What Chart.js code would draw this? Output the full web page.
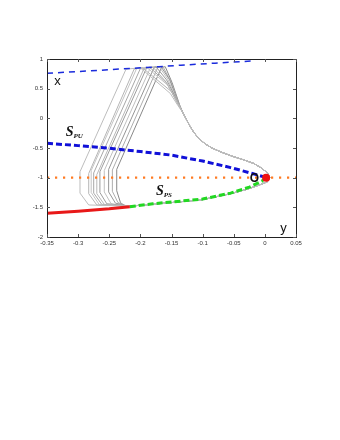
<!DOCTYPE html>
<html>
<head>
<meta charset="utf-8">
<script src="https://cdn.jsdelivr.net/npm/chart.js@4"></script>
<style>
  body { margin: 0; background: #fff; }
  #wrap { width: 340px; height: 440px; }
</style>
</head>
<body>
<div id="wrap"><canvas id="phaseChart" width="340" height="440"></canvas></div>
<script>
// axis ticks
const xTicks = [-0.35, -0.3, -0.25, -0.2, -0.15, -0.1, -0.05, 0, 0.05];
const xTickLabels = ['-0.35', '-0.3', '-0.25', '-0.2', '-0.15', '-0.1', '-0.05', '0', '0.05'];
const yTicks = [-2, -1.5, -1, -0.5, 0, 0.5, 1];
const yTickLabels = ['-2', '-1.5', '-1', '-0.5', '0', '0.5', '1'];

// invariant curves
const topBlue = [[-0.35, 0.76], [-0.28, 0.80], [-0.25, 0.82], [-0.17, 0.87], [-0.135, 0.895], [-0.08, 0.93], [-0.022, 0.965]];
const sPU = [[-0.35, -0.42], [-0.3, -0.46], [-0.25, -0.505], [-0.2, -0.56], [-0.15, -0.62], [-0.1, -0.72], [-0.055, -0.83], [-0.02, -0.93], [0.0, -0.99]];
const sPSred = [[-0.35, -1.60], [-0.3, -1.565], [-0.25, -1.525], [-0.217, -1.49]];
const sPSgreen = [[-0.217, -1.49], [-0.18, -1.44], [-0.15, -1.41], [-0.1, -1.36], [-0.055, -1.26], [-0.025, -1.16], [-0.005, -1.06], [0.0, -1.01]];
const orangeLine = [[-0.35, -1.0], [0.05, -1.0]];
const fixedPoint = [[0.002, -1.0]];

// gray orbits: individual left part, then common descent and return
const traj0 = [[-0.217, -1.48], [-0.283, -1.46], [-0.297, -1.26], [-0.297, -0.90], [-0.223, 0.83], [-0.2, 0.85], [-0.152, 0.42], [-0.14, 0.22]];
const traj1 = [[-0.217, -1.48], [-0.27, -1.46], [-0.283, -1.27], [-0.283, -0.93], [-0.21, 0.83], [-0.197, 0.855], [-0.15, 0.45], [-0.139, 0.22]];
const traj2 = [[-0.22, -1.48], [-0.266, -1.455], [-0.279, -1.25], [-0.279, -0.88], [-0.206, 0.84], [-0.19, 0.86], [-0.155, 0.55], [-0.14, 0.25]];
const traj3 = [[-0.22, -1.475], [-0.262, -1.45], [-0.275, -1.26], [-0.275, -0.92], [-0.2, 0.84], [-0.185, 0.86], [-0.158, 0.6], [-0.142, 0.3]];
const traj4 = [[-0.222, -1.475], [-0.258, -1.45], [-0.27, -1.27], [-0.27, -0.95], [-0.194, 0.845], [-0.18, 0.865], [-0.16, 0.63], [-0.143, 0.32]];
const traj5 = [[-0.222, -1.47], [-0.254, -1.44], [-0.265, -1.25], [-0.265, -0.9], [-0.19, 0.85], [-0.175, 0.87], [-0.158, 0.65], [-0.141, 0.3]];
const traj6 = [[-0.224, -1.47], [-0.247, -1.44], [-0.258, -1.24], [-0.258, -0.88], [-0.184, 0.85], [-0.17, 0.875], [-0.156, 0.66], [-0.14, 0.28]];
const traj7 = [[-0.225, -1.465], [-0.24, -1.43], [-0.251, -1.24], [-0.251, -0.86], [-0.178, 0.855], [-0.167, 0.875], [-0.153, 0.65], [-0.139, 0.26]];
const traj8 = [[-0.226, -1.46], [-0.236, -1.42], [-0.245, -1.23], [-0.245, -0.87], [-0.172, 0.86], [-0.164, 0.875], [-0.151, 0.62], [-0.138, 0.24]];
const traj9 = [[-0.227, -1.46], [-0.232, -1.42], [-0.238, -1.22], [-0.238, -0.86], [-0.166, 0.86], [-0.16, 0.87], [-0.149, 0.6], [-0.137, 0.23]];
const trajTail = [[-0.132, 0.1], [-0.127, 0.0], [-0.121, -0.12], [-0.114, -0.24], [-0.106, -0.34], [-0.096, -0.43], [-0.085, -0.5], [-0.07, -0.57], [-0.052, -0.64], [-0.034, -0.70], [-0.018, -0.76], [-0.005, -0.84], [0.004, -0.92], [0.008, -1.0], [0.004, -1.07], [-0.008, -1.12], [-0.03, -1.2], [-0.055, -1.27], [-0.1, -1.37], [-0.15, -1.42], [-0.217, -1.48]];
const trajHeads = [traj0, traj1, traj2, traj3, traj4, traj5, traj6, traj7, traj8, traj9];
const trajColors = ['#bdbdbd', '#b5b5b5', '#c4c4c4', '#a8a8a8', '#b8b8b8', '#9c9c9c', '#c0c0c0', '#959595', '#adadad', '#888'];

const toXY = pts => pts.map(p => ({ x: p[0], y: p[1] }));

function lineSet(pts, color, width, dash, order) {
  return {
    data: toXY(pts),
    showLine: true,
    borderColor: color,
    borderWidth: width,
    borderDash: dash,
    pointRadius: 0,
    fill: false,
    tension: 0,
    order: order
  };
}

const datasets = [];
trajHeads.forEach((head, i) => {
  datasets.push(lineSet(head.concat(trajTail), trajColors[i], 1, [], 10));
});
datasets.push(lineSet(topBlue, '#1a2bdc', 1.5, [6, 5], 2));
datasets.push(lineSet(sPU, '#1010d8', 3, [6, 3], 1));
datasets.push(lineSet(sPSred, '#e81818', 3, [], 1));
datasets.push(lineSet(sPSgreen, '#22d822', 3, [6, 3], 1));
datasets.push(lineSet(orangeLine, '#ff7b22', 2.2, [2.2, 5.8], 3));
datasets.push({
  data: toXY(fixedPoint),
  pointRadius: 4,
  pointBackgroundColor: '#ee1111',
  pointBorderWidth: 0,
  showLine: false,
  order: 0
});

// frame, inward ticks and text labels
const decorPlugin = {
  id: 'decor',
  afterDraw(chart) {
    const ctx = chart.ctx;
    const a = chart.chartArea;
    const xs = chart.scales.x, ys = chart.scales.y;
    ctx.save();
    ctx.strokeStyle = '#222';
    ctx.lineWidth = 1;
    ctx.strokeRect(Math.round(a.left) + 0.5, Math.round(a.top) + 0.5, Math.round(a.right - a.left), Math.round(a.bottom - a.top));
    ctx.strokeStyle = '#555';
    ctx.beginPath();
    xTicks.forEach(v => {
      const px = Math.round(xs.getPixelForValue(v)) + 0.5;
      ctx.moveTo(px, a.bottom); ctx.lineTo(px, a.bottom - 3);
      ctx.moveTo(px, a.top); ctx.lineTo(px, a.top + 3);
    });
    yTicks.forEach(v => {
      const py = Math.round(ys.getPixelForValue(v)) + 0.5;
      ctx.moveTo(a.left, py); ctx.lineTo(a.left + 3, py);
      ctx.moveTo(a.right, py); ctx.lineTo(a.right - 3, py);
    });
    ctx.stroke();

    ctx.fillStyle = '#111';
    ctx.textBaseline = 'middle';
    ctx.textAlign = 'center';
    ctx.font = '13px "Liberation Sans", Arial, sans-serif';
    ctx.fillText('x', xs.getPixelForValue(-0.333), ys.getPixelForValue(0.63));
    ctx.fillText('y', xs.getPixelForValue(0.03), ys.getPixelForValue(-1.85));
    ctx.font = 'bold 12px "Liberation Sans", Arial, sans-serif';
    ctx.fillText('O', xs.getPixelForValue(-0.017), ys.getPixelForValue(-1.01));

    const drawS = (sub, vx, vy) => {
      const px = xs.getPixelForValue(vx), py = ys.getPixelForValue(vy);
      ctx.textAlign = 'left';
      ctx.textBaseline = 'alphabetic';
      ctx.font = 'italic bold 14px "Liberation Serif", "Times New Roman", serif';
      ctx.fillText('S', px, py);
      const w = ctx.measureText('S').width;
      ctx.font = 'italic bold 7px "Liberation Serif", "Times New Roman", serif';
      ctx.fillText(sub, px + w, py + 2);
    };
    drawS('PU', -0.32, -0.3);
    drawS('PS', -0.175, -1.3);
    ctx.restore();
  }
};

const tickFont = { family: '"Liberation Sans", Arial, sans-serif', size: 6 };

new Chart(document.getElementById('phaseChart'), {
  type: 'scatter',
  data: { datasets: datasets },
  options: {
    responsive: false,
    animation: false,
    layout: { padding: { left: 0, right: 44, top: 59, bottom: 188 } },
    plugins: { legend: { display: false }, tooltip: { enabled: false } },
    scales: {
      x: {
        type: 'linear',
        min: -0.35,
        max: 0.05,
        grid: { display: false, drawTicks: false },
        border: { display: false },
        afterBuildTicks: s => { s.ticks = xTicks.map(v => ({ value: v })); },
        afterFit: s => { s.height = 15; },
        ticks: {
          autoSkip: false,
          maxRotation: 0,
          padding: 3,
          color: '#333',
          font: tickFont,
          callback: (v, i) => xTickLabels[i]
        }
      },
      y: {
        type: 'linear',
        min: -2,
        max: 1,
        grid: { display: false, drawTicks: false },
        border: { display: false },
        afterBuildTicks: s => { s.ticks = yTicks.map(v => ({ value: v })); },
        afterFit: s => { s.width = 47; },
        ticks: {
          autoSkip: false,
          padding: 4,
          color: '#333',
          font: tickFont,
          callback: (v, i) => yTickLabels[i]
        }
      }
    }
  },
  plugins: [decorPlugin]
});
</script>
</body>
</html>
